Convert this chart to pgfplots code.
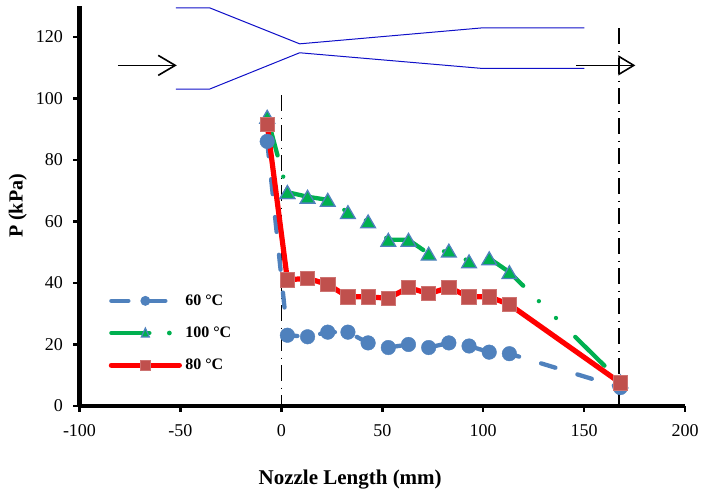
\documentclass[border=0pt]{standalone}
\usepackage{fontspec}
\setmainfont{Liberation Serif}
\usepackage{pgfplots}
\pgfplotsset{compat=1.18}
\usetikzlibrary{arrows.meta}
\definecolor{cblue}{HTML}{4F81BD}
\definecolor{cgreen}{HTML}{00B050}
\definecolor{cred}{HTML}{FF0000}
\definecolor{csq}{HTML}{C0504D}
\definecolor{noz}{HTML}{1010C8}
\begin{document}
\begin{tikzpicture}
\path[use as bounding box] (-79.5pt,-86pt) rectangle (622.5pt,406pt);
\begin{axis}[
  at={(0pt,0pt)},anchor=south west,
  scale only axis,width=605.5pt,height=400pt,
  xmin=-100,xmax=200,ymin=0,ymax=130,
  axis x line=bottom,axis y line=left,
  axis line style={-,line width=4.5pt,black},
  xtick={-100,-50,0,50,100,150,200},
  ytick={0,20,40,60,80,100,120},
  tick align=outside,major tick length=6pt,
  tick style={line width=2.5pt,black},
  /pgf/number format/assume math mode=true,
  tick label style={font=\fontsize{18}{20}\selectfont,black},
  xticklabel style={yshift=-9pt},
  yticklabel style={xshift=-7pt},
  clip=false,
  every axis x label/.style={at={(axis description cs:0.447,-0.185)},anchor=center,font=\fontsize{21}{24}\selectfont\bfseries},
  every axis y label/.style={at={(axis description cs:-0.102,0.5)},rotate=90,anchor=center,font=\fontsize{20}{24}\selectfont\bfseries},
  xlabel={Nozzle Length (mm)},
  ylabel={P (kPa)},
  legend style={at={(axis description cs:0.048,0.1825)},anchor=west,draw=none,fill=none,
    font=\fontsize{16}{18}\selectfont\bfseries,row sep=20pt,inner sep=0pt,
    nodes={inner sep=0pt,anchor=west}},
  legend cell align=left,
]
% nozzle outline
\addplot[forget plot,noz,line width=1pt] coordinates {(-52.3,129.4)(-35.5,129.4)(9.07,117.7)(99.7,122.9)(150.1,122.9)};
\addplot[forget plot,noz,line width=1pt] coordinates {(-52.3,103)(-35.5,103)(9.07,114.8)(99.7,109.7)(150.1,109.7)};
% flow arrows
\addplot[forget plot,black,line width=1.6pt,-{Straight Barb[length=17pt,width=20pt,line width=1.6pt]}] coordinates {(-81,110.7)(-51.8,110.7)};
% section lines
\addplot[forget plot,black,line width=1.6pt,dash pattern=on 16pt off 6.5pt on 1.5pt off 6pt] coordinates {(0,101)(0,0)};
\addplot[forget plot,black,line width=1.6pt,dash pattern=on 16pt off 6.5pt on 1.5pt off 6pt] coordinates {(167.2,122.8)(167.2,0)};
\addplot[forget plot,black,line width=1.6pt,-{Triangle[open,length=17pt,width=20pt,line width=1.6pt]}] coordinates {(146.2,110.7)(175.4,110.7)};
\addplot[forget plot,black,line width=1.6pt] coordinates {(160,110.7)(174,110.7)};
% 60 C
\addplot[cblue,line width=4.3pt,line cap=round,dash pattern=on 15pt off 23pt,
  mark=*,mark size=7.3pt,mark options={solid,fill=cblue,draw=cblue,line width=0.4pt},
  legend image code/.code={
    \draw[solid,cblue,line width=4.3pt,line cap=round] (2pt,0pt)--(19pt,0pt);
    \draw[solid,cblue,line width=4.3pt,line cap=round] (34pt,0pt)--(56pt,0pt);
    \fill[cblue,draw=none] (36pt,0pt) circle (5pt);
    \path[draw=none,fill=none] (0pt,-5pt) rectangle (76pt,5pt);
  }] coordinates {
(-7,86)(3,23)(13,22.5)(23,24)(33,24)(43,20.5)(53,19)(63,20)(73,19)(83,20.5)(93,19.5)(103,17.5)(113,17)(168,6)};
\addlegendentry{60 °C}
% 100 C
\addplot[forget plot,cgreen,line width=4.3pt,line cap=round,dash pattern=on 40pt off 22pt on 0pt off 24pt on 0pt off 28pt,
  mark=triangle*,mark size=8.5pt,mark options={solid,fill=cgreen,draw=cblue,line width=1.3pt,line cap=butt,yshift=-2.1pt}] coordinates {(-7,94)(3,69.5)};
\addplot[cgreen,line width=4.3pt,line cap=round,dash pattern=on 41pt off 22pt on 0pt off 24pt on 0pt off 27pt,dash phase=2.5pt,
  mark=triangle*,mark size=8.5pt,mark options={solid,fill=cgreen,draw=cblue,line width=1.3pt,line cap=butt,yshift=-2.1pt},
  legend image code/.code={
    \draw[solid,cgreen,line width=4.3pt,line cap=round] (2pt,0pt)--(40pt,0pt);
    \fill[cgreen,draw=none] (60pt,0pt) circle (2.4pt);
    \draw[solid,cblue,fill=cgreen,line width=1.2pt] (32pt,-4pt)--(40pt,-4pt)--(36pt,5pt)--cycle;
    \path[draw=none,fill=none] (0pt,-5pt) rectangle (76pt,5pt);
  }] coordinates {
(3,69.5)(13,68)(23,67)(33,63)(43,60)(53,54)(63,54)(73,49.5)(83,50.5)(93,47)(103,48)(113,43.5)(168,8)};
\addlegendentry{100 °C}
% 80 C
\addplot[cred,line width=5.2pt,line cap=round,
  mark=square*,mark size=7.2pt,mark options={fill=csq,draw=csq!80!white,line width=0.8pt},
  legend image code/.code={
    \draw[solid,cred,line width=5.2pt,line cap=round] (2pt,0pt)--(70pt,0pt);
    \draw[solid,fill=csq,draw=csq!80!white,line width=0.8pt] (31pt,-5pt)rectangle(41pt,5pt);
    \path[draw=none,fill=none] (0pt,-5pt) rectangle (76pt,5pt);
  }] coordinates {
(-7,91.5)(3,41)(13,41.5)(23,39.5)(33,35.5)(43,35.5)(53,35)(63,38.5)(73,36.5)(83,38.5)(93,35.5)(103,35.5)(113,33)(168,7.5)};
\addlegendentry{80 °C}
\end{axis}
\end{tikzpicture}
\end{document}
